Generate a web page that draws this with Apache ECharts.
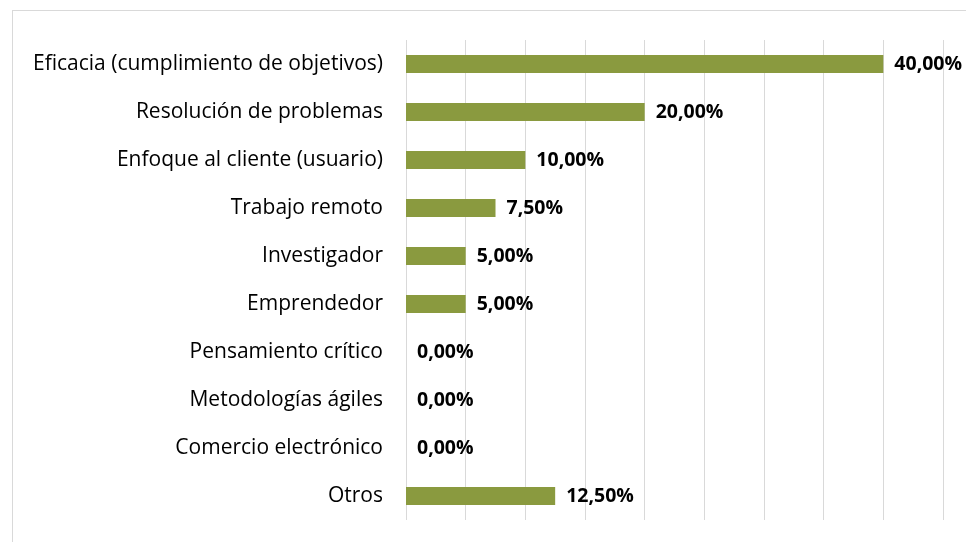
<!DOCTYPE html>
<html><head><meta charset="utf-8">
<script src="https://cdn.jsdelivr.net/npm/echarts@6/dist/echarts.min.js"></script>
<style>html,body{margin:0;padding:0;background:#fff}#c{width:966px;height:542px;position:relative}
#frame{position:absolute;left:12px;top:10px;width:980px;height:560px;border:1px solid #d9d9d9;box-sizing:border-box;pointer-events:none}</style>
</head><body><div id="c"></div><div id="frame"></div>
<script>
const categories = ["Eficacia (cumplimiento de objetivos)","Resolución de problemas","Enfoque al cliente (usuario)","Trabajo remoto","Investigador","Emprendedor","Pensamiento crítico","Metodologías ágiles","Comercio electrónico","Otros"];
const values = [40, 20, 10, 7.5, 5, 5, 0, 0, 0, 12.5];
const chart = echarts.init(document.getElementById('c'));
chart.setOption({
  animation:false,
  grid:{left:406,right:23,top:40,bottom:22,containLabel:false},
  xAxis:{type:'value',min:0,max:45,interval:5,axisLabel:{show:false},axisLine:{show:false},axisTick:{show:false},
    splitLine:{show:true,lineStyle:{color:'#d9d9d9',width:1}}},
  yAxis:{type:'category',inverse:true,data:categories,axisLine:{show:false},axisTick:{show:false},
    axisLabel:{color:'#000',fontSize:21,fontFamily:'Open Sans',margin:23}},
  series:[{type:'bar',data:values,barWidth:18,itemStyle:{color:'#8a9a3f'},
    label:{show:true,position:'right',distance:11,color:'#000',fontWeight:'bold',fontSize:19.5,fontFamily:'Open Sans',
      formatter:p=>p.value.toFixed(2).replace('.',',')+'%'}}]
});
</script></body></html>
